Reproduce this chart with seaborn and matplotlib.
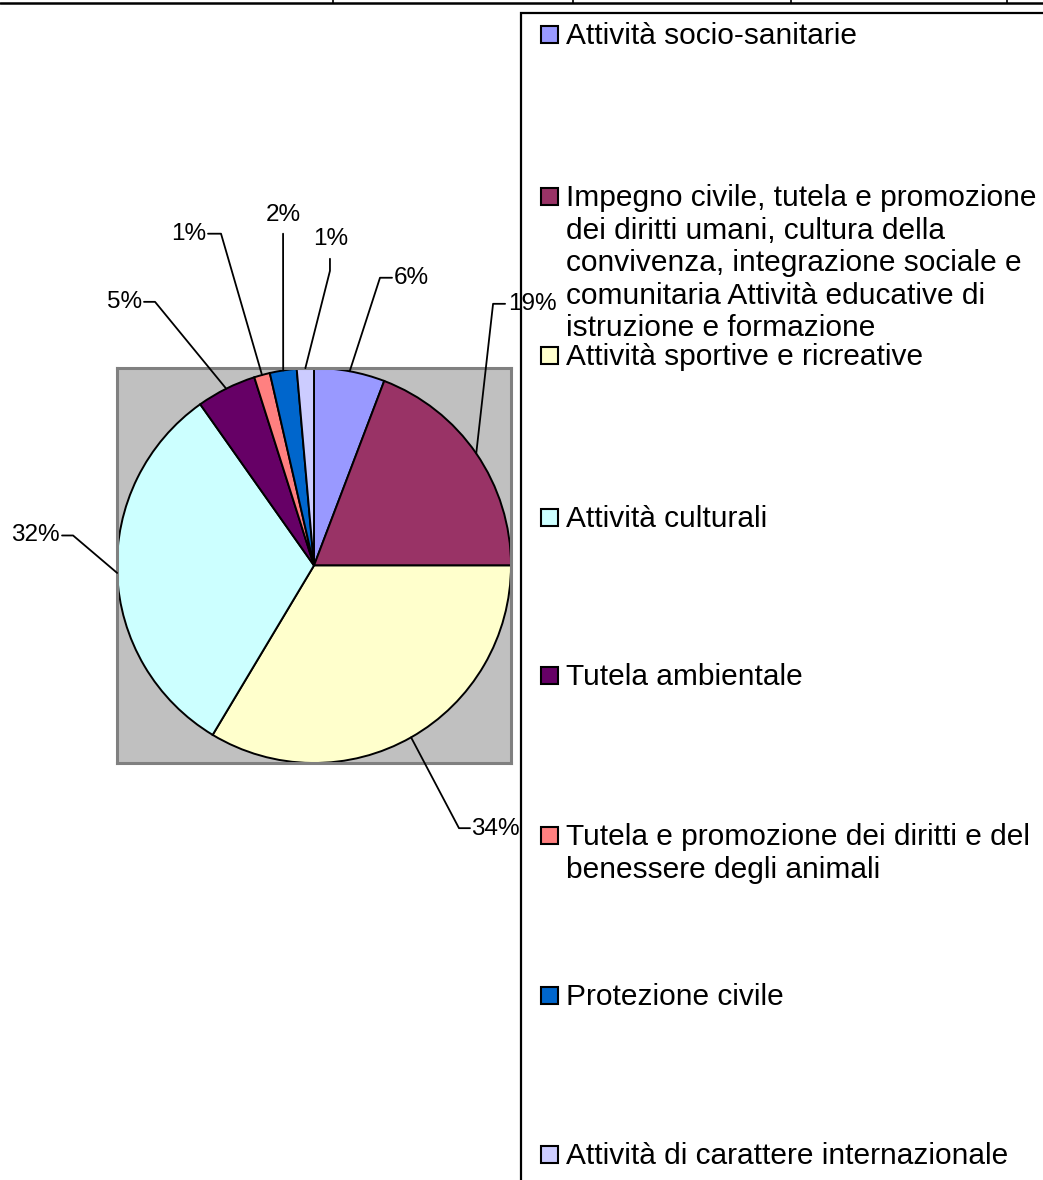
"""Pie chart of association sectors with leader-line labels and a tall legend box."""

import numpy as np
import matplotlib
matplotlib.use("Agg")
import matplotlib.pyplot as plt
import seaborn as sns
from matplotlib.lines import Line2D
from matplotlib.patches import Rectangle

# --- data ---
categories = [
    "Attività socio-sanitarie",
    "Impegno civile, tutela e promozione dei diritti umani, cultura della convivenza, "
    "integrazione sociale e comunitaria Attività educative di istruzione e formazione",
    "Attività sportive e ricreative",
    "Attività culturali",
    "Tutela ambientale",
    "Tutela e promozione dei diritti e del benessere degli animali",
    "Protezione civile",
    "Attività di carattere internazionale",
]
legend_labels = [
    "Attività socio-sanitarie",
    "Impegno civile, tutela e promozione\ndei diritti umani, cultura della\n"
    "convivenza, integrazione sociale e\ncomunitaria Attività educative di\n"
    "istruzione e formazione",
    "Attività sportive e ricreative",
    "Attività culturali",
    "Tutela ambientale",
    "Tutela e promozione dei diritti e del\nbenessere degli animali",
    "Protezione civile",
    "Attività di carattere internazionale",
]
shares = [5.8, 19.2, 33.6, 31.6, 4.9, 1.3, 2.2, 1.4]
colors = ["#9999FF", "#993366", "#FFFFCC", "#CCFFFF",
          "#660066", "#FF8080", "#0066CC", "#CCCCFF"]

# label layout, in pie-radius units: elbow of the leader, end of its stub,
# text anchor and horizontal alignment
label_layout = [
    ((0.335, 1.457), (0.396, 1.457), (0.406, 1.457), "left"),
    ((0.909, 1.325), (0.970, 1.325), (0.985, 1.325), "left"),
    ((0.736, -1.330), (0.792, -1.330), (0.797, -1.335), "left"),
    ((-1.223, 0.152), (-1.279, 0.152), (-1.290, 0.152), "right"),
    ((-0.807, 1.335), (-0.863, 1.335), (-0.873, 1.335), "right"),
    ((-0.472, 1.680), (-0.538, 1.680), (-0.548, 1.680), "right"),
    ((-0.157, 1.680), (-0.157, 1.680), (-0.157, 1.775), "center"),
    ((0.081, 1.492), (0.081, 1.553), (0.086, 1.655), "center"),
]

W, H = 1043, 1180

sns.set_theme(style="white")
plt.rcParams["font.family"] = ["Liberation Sans", "DejaVu Sans"]

fig = plt.figure(figsize=(W / 100, H / 100), dpi=100)
fig.patch.set_facecolor("white")


def fx(px):
    return px / W


def fy(py):
    return 1 - py / H


# plot area (gray square around the pie)
ax = fig.add_axes([fx(117), fy(763), (511 - 117) / W, (763 - 368) / H])

wedges, _ = ax.pie(
    shares, colors=colors, startangle=90, counterclock=False, radius=1,
    wedgeprops=dict(edgecolor="black", linewidth=1.4),
)
ax.set_frame_on(True)
ax.set_facecolor("#C0C0C0")
for s in ax.spines.values():
    s.set_visible(True)
    s.set_color("#808080")
    s.set_linewidth(2.2)
ax.set_xticks([])
ax.set_yticks([])
ax.set_aspect("auto")
ax.set_xlim(-1, 1)
ax.set_ylim(-1, 1)

for w, v, (elbow, stub, txt, ha) in zip(wedges, shares, label_layout):
    mid = np.deg2rad((w.theta1 + w.theta2) / 2)
    xs = [np.cos(mid), elbow[0], stub[0]]
    ys = [np.sin(mid), elbow[1], stub[1]]
    ax.plot(xs, ys, color="black", lw=1.3, clip_on=False, zorder=3)
    ax.text(txt[0], txt[1], f"{v:.0f}%", ha=ha, va="center",
            fontsize=17.5, color="black", clip_on=False, zorder=3)

# legend box (runs off the right and bottom of the picture)
fig.add_artist(Rectangle((fx(521), fy(1200)), fx(1080) - fx(521), fy(13) - fy(1200),
                         transform=fig.transFigure, fill=False,
                         edgecolor="black", linewidth=1.6, zorder=5))
entry_y = [35, 197, 356, 518, 676, 836, 996, 1155]
for lab, col, py in zip(legend_labels, colors, entry_y):
    fig.add_artist(Rectangle((fx(541), fy(py + 8)), fx(17), 17 / H,
                             transform=fig.transFigure, facecolor=col,
                             edgecolor="black", linewidth=1.5, zorder=6))
    fig.text(fx(566), fy(py - 13), lab, ha="left", va="top", fontsize=21.5,
             linespacing=1.21, color="black", zorder=6)

# spreadsheet cell border along the top
fig.add_artist(Line2D([0, 1], [fy(3), fy(3)], transform=fig.transFigure,
                      color="black", lw=1.8))
for px in [333, 573, 791, 1007]:
    fig.add_artist(Line2D([fx(px), fx(px)], [fy(0), fy(3)],
                          transform=fig.transFigure, color="black", lw=1.2))

fig.savefig("out.png", dpi=100)
plt.close(fig)
